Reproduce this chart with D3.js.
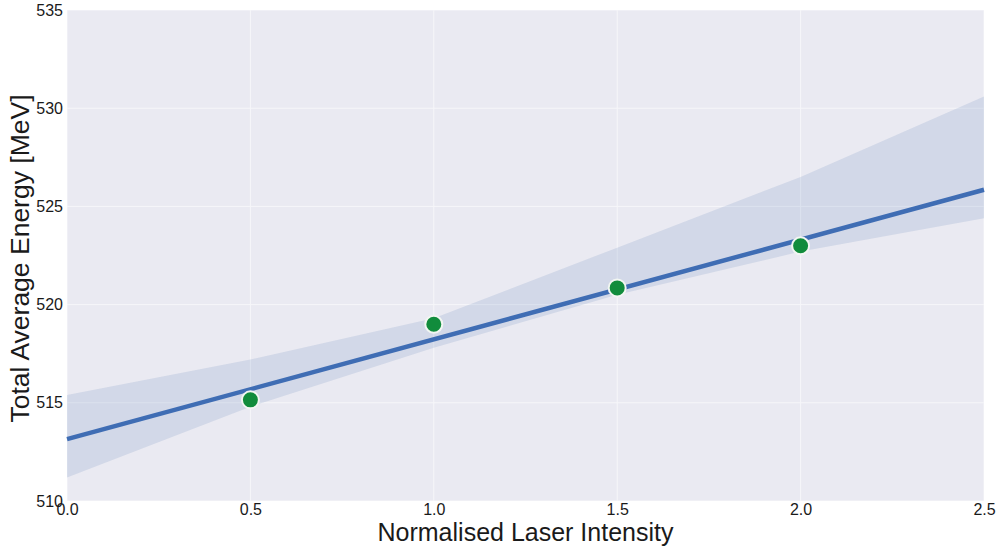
<!DOCTYPE html>
<html>
<head>
<meta charset="utf-8">
<script src="https://cdn.jsdelivr.net/npm/d3@7"></script>
<style>
  html, body { margin: 0; padding: 0; background: #fff; }
  svg { display: block; }
  text { font-family: "Liberation Sans", Arial, sans-serif; fill: #1a1a1a; }
</style>
</head>
<body>
<svg id="chart" width="998" height="548"></svg>
<script>
// Measured points
const intensity = [0.5, 1.0, 1.5, 2.0];
const energy = [515.15, 519.0, 520.85, 523.0];

// Confidence band of the fit (upper / lower edges)
const bandX = [0.0, 0.5, 1.0, 1.5, 2.0, 2.5];
const bandUpper = [515.4, 517.2, 519.3, 522.9, 526.5, 530.6];
const bandLower = [511.2, 514.8, 517.8, 520.5, 522.7, 524.4];

// Axis ticks
const xTicks = [0.0, 0.5, 1.0, 1.5, 2.0, 2.5];
const yTicks = [510, 515, 520, 525, 530, 535];

const margin = { left: 67, top: 10, right: 14, bottom: 47 };
const W = 998, H = 548;

const svg = d3.select("#chart");
const x = d3.scaleLinear().domain([0, 2.5]).range([margin.left, W - margin.right]);
const y = d3.scaleLinear().domain([510, 535]).range([H - margin.bottom, margin.top]);

// Plot background
svg.append("rect")
  .attr("x", x(0)).attr("y", y(535))
  .attr("width", x(2.5) - x(0)).attr("height", y(510) - y(535))
  .attr("fill", "#EAEAF2");

// Grid
const grid = svg.append("g").attr("stroke", "#ffffff").attr("stroke-width", 1).attr("opacity", 0.6);
grid.selectAll(".gx").data(xTicks).join("line")
  .attr("x1", d => x(d)).attr("x2", d => x(d))
  .attr("y1", y(535)).attr("y2", y(510));
grid.selectAll(".gy").data(yTicks).join("line")
  .attr("y1", d => y(d)).attr("y2", d => y(d))
  .attr("x1", x(0)).attr("x2", x(2.5));

// Confidence band
const band = bandX.map((v, i) => ({ x: v, lo: bandLower[i], hi: bandUpper[i] }));
svg.append("path")
  .datum(band)
  .attr("fill", "#4C72B0")
  .attr("fill-opacity", 0.15)
  .attr("d", d3.area().x(d => x(d.x)).y0(d => y(d.lo)).y1(d => y(d.hi)));

// Least-squares fit through the points
const mx = d3.mean(intensity), my = d3.mean(energy);
let sxy = 0, sxx = 0;
intensity.forEach((v, i) => { sxy += (v - mx) * (energy[i] - my); sxx += (v - mx) * (v - mx); });
const slope = sxy / sxx, icpt = my - slope * mx;
const fit = [0, 2.5].map(v => ({ x: v, y: icpt + slope * v }));
svg.append("path")
  .datum(fit)
  .attr("fill", "none")
  .attr("stroke", "#3F6DB4")
  .attr("stroke-width", 4.5)
  .attr("d", d3.line().x(d => x(d.x)).y(d => y(d.y)));

// Data points
svg.append("g").selectAll("circle")
  .data(intensity.map((v, i) => ({ x: v, y: energy[i] })))
  .join("circle")
  .attr("cx", d => x(d.x)).attr("cy", d => y(d.y))
  .attr("r", 8.5)
  .attr("fill", "#118C3C")
  .attr("stroke", "#F2F6F2")
  .attr("stroke-width", 2);

// Tick labels
const xAxis = d3.axisBottom(x).tickValues(xTicks).tickFormat(d3.format(".1f")).tickSize(0).tickPadding(3);
const gx = svg.append("g").attr("transform", `translate(0,${y(510)})`).call(xAxis);
gx.select(".domain").remove();
gx.selectAll("text").attr("font-size", 16).attr("font-family", "Liberation Sans, Arial, sans-serif").attr("fill", "#1a1a1a");

const yAxis = d3.axisLeft(y).tickValues(yTicks).tickFormat(d3.format("d")).tickSize(0).tickPadding(4);
const gy = svg.append("g").attr("transform", `translate(${x(0)},0)`).call(yAxis);
gy.select(".domain").remove();
gy.selectAll("text").attr("font-size", 16).attr("font-family", "Liberation Sans, Arial, sans-serif").attr("fill", "#1a1a1a");

// Axis titles
svg.append("text")
  .attr("x", (x(0) + x(2.5)) / 2).attr("y", 541)
  .attr("text-anchor", "middle").attr("font-size", 25)
  .text("Normalised Laser Intensity");
svg.append("text")
  .attr("transform", `translate(29,${(y(510) + y(535)) / 2 + 3}) rotate(-90)`)
  .attr("text-anchor", "middle").attr("font-size", 26.5)
  .text("Total Average Energy [MeV]");
</script>
</body>
</html>
